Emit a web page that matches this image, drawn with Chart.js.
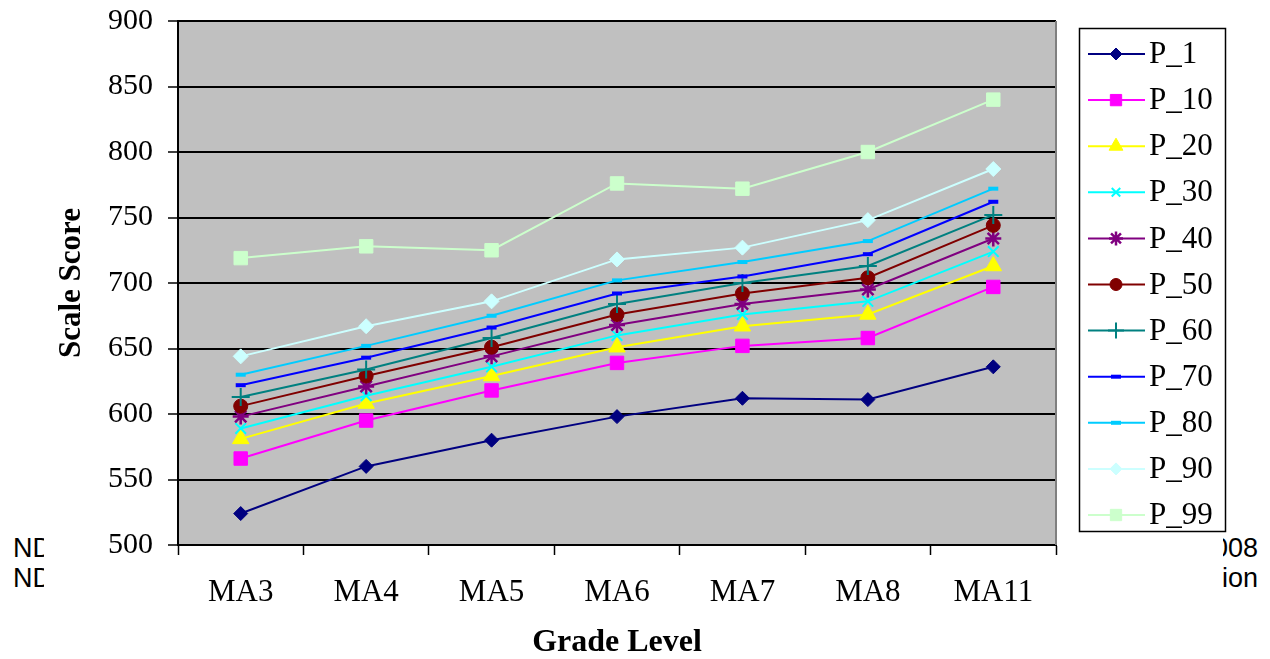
<!DOCTYPE html>
<html>
<head>
<meta charset="utf-8">
<script src="https://cdn.jsdelivr.net/npm/chart.js@4.4.1/dist/chart.umd.min.js"></script>
<style>
  html, body { margin: 0; padding: 0; background: #fff; }
  #wrap { position: relative; width: 1270px; height: 659px; overflow: hidden; }
  .side { position: absolute; font-family: "Liberation Sans", Arial, sans-serif; font-size: 27px; line-height: 30px; color: #000; white-space: nowrap; }
  #cover { position: absolute; left: 44px; top: 0; width: 1179px; height: 659px; background: #fff; }
  #c { position: absolute; left: 0; top: 0; }
</style>
</head>
<body>
<div id="wrap">
  <div class="side" style="left:13px; top:533px;">ND<br>ND</div>
  <div class="side" style="right:12px; top:533px; text-align:right;">2008<br>ation</div>
  <div id="cover"></div>
  <canvas id="c" width="1270" height="659"></canvas>
</div>
<script>
const categories = ['MA3', 'MA4', 'MA5', 'MA6', 'MA7', 'MA8', 'MA11'];
const seriesNames = ['P_1', 'P_10', 'P_20', 'P_30', 'P_40', 'P_50', 'P_60', 'P_70', 'P_80', 'P_90', 'P_99'];
const P_1  = [524, 560, 580, 598, 612, 611, 636];
const P_10 = [566, 595, 618, 639, 652, 658, 697];
const P_20 = [581, 608, 629, 651, 667, 676, 713];
const P_30 = [589, 614, 636, 660, 676, 686, 724];
const P_40 = [598, 621, 644, 668, 684, 695, 734];
const P_50 = [606, 629, 651, 676, 692, 704, 744];
const P_60 = [613, 634, 658, 684, 700, 713, 752];
const P_70 = [622, 643, 666, 692, 705, 722, 762];
const P_80 = [630, 652, 675, 702, 716, 732, 772];
const P_90 = [644, 667, 686, 718, 727, 748, 787];
const P_99 = [719, 728, 725, 776, 772, 800, 840];
const seriesValues = [P_1, P_10, P_20, P_30, P_40, P_50, P_60, P_70, P_80, P_90, P_99];
const yTicks = [500, 550, 600, 650, 700, 750, 800, 850, 900];

const colors = ['#000080', '#FF00FF', '#FFFF00', '#00FFFF', '#800080', '#800000', '#008080', '#0000FF', '#00CCFF', '#CCFFFF', '#CCFFCC'];
const markers = [
  {style: 'rectRot', r: 7, bw: 1, lr: 6},
  {style: 'rect', r: 9.5, bw: 1, lr: 8},
  {style: 'triangle', r: 9.5, bw: 1, lr: 8},
  {style: 'crossRot', r: 7.5, bw: 2, lr: 6},
  {style: 'star', r: 8, bw: 2.5, lr: 7},
  {style: 'circle', r: 7, bw: 1, lr: 6},
  {style: 'cross', r: 9, bw: 2, lr: 8},
  {style: 'line', r: 5, bw: 4, lr: 5},
  {style: 'line', r: 5, bw: 4, lr: 5},
  {style: 'rectRot', r: 7.5, bw: 1, lr: 6},
  {style: 'rect', r: 9.5, bw: 1, lr: 8}
];

const FONT = '"Liberation Serif", "Times New Roman", serif';
Chart.defaults.font.family = FONT;
Chart.defaults.color = '#000';

const datasets = seriesNames.map((name, i) => ({
  label: name,
  data: seriesValues[i],
  borderColor: colors[i],
  backgroundColor: colors[i],
  pointBackgroundColor: colors[i],
  pointBorderColor: colors[i],
  pointStyle: markers[i].style,
  pointRadius: markers[i].r,
  pointHoverRadius: markers[i].r,
  pointBorderWidth: markers[i].bw,
  legendRadius: markers[i].lr,
  borderWidth: 2,
  tension: 0,
  fill: false,
  order: 10 - i
}));

const plotBg = {
  id: 'plotBg',
  beforeDraw(chart) {
    const {ctx, chartArea: a} = chart;
    ctx.save();
    ctx.fillStyle = '#C0C0C0';
    ctx.fillRect(a.left, a.top, a.right - a.left, a.bottom - a.top);
    ctx.restore();
  },
  beforeDatasetsDraw(chart) {
    const {ctx, chartArea: a} = chart;
    ctx.save();
    ctx.strokeStyle = '#808080';
    ctx.lineWidth = 2;
    ctx.beginPath();
    ctx.moveTo(a.right, a.top);
    ctx.lineTo(a.right, a.bottom);
    ctx.stroke();
    ctx.restore();
  }
};

const customLegend = {
  id: 'customLegend',
  afterDraw(chart) {
    const ctx = chart.ctx;
    const bx = 1079, by = 28, bw = 147, bh = 504;
    ctx.save();
    ctx.fillStyle = '#fff';
    ctx.fillRect(bx, by, bw, bh);
    ctx.strokeStyle = '#000';
    ctx.lineWidth = 1.5;
    ctx.strokeRect(bx + 0.5, by + 0.5, bw - 1, bh - 1);
    chart.data.datasets.forEach((ds, i) => {
      const y = 54 + i * 46.1;
      ctx.strokeStyle = ds.borderColor;
      ctx.lineWidth = 2;
      ctx.beginPath();
      ctx.moveTo(1088, y);
      ctx.lineTo(1145, y);
      ctx.stroke();
      ctx.fillStyle = ds.pointBackgroundColor;
      ctx.strokeStyle = ds.pointBorderColor;
      ctx.lineWidth = ds.pointBorderWidth;
      Chart.helpers.drawPoint(ctx, {pointStyle: ds.pointStyle, radius: ds.legendRadius, borderWidth: ds.pointBorderWidth, rotation: 0}, 1116, y);
      ctx.fillStyle = '#000';
      ctx.font = '31px ' + FONT;
      ctx.textBaseline = 'middle';
      ctx.textAlign = 'left';
      ctx.fillText(ds.label, 1149, y + 1);
    });
    ctx.restore();
  }
};

new Chart(document.getElementById('c'), {
  type: 'line',
  data: { labels: categories, datasets: datasets },
  plugins: [plotBg, customLegend],
  options: {
    responsive: false,
    devicePixelRatio: 1,
    animation: false,
    events: [],
    layout: { padding: { left: 54, right: 214, top: 21, bottom: 0 } },
    plugins: { legend: { display: false }, tooltip: { enabled: false } },
    scales: {
      x: {
        type: 'category',
        offset: true,
        afterFit(scale) { scale.height = 114; scale.paddingLeft = 0; scale.paddingRight = 0; },
        grid: { display: true, drawOnChartArea: false, drawTicks: true, tickLength: 10, offset: true, color: '#000', tickColor: '#000', tickWidth: 1.5 },
        border: { display: true, color: '#000', width: 2 },
        ticks: { font: { size: 31 }, color: '#000', padding: 19, maxRotation: 0, autoSkip: false },
        title: { display: true, text: 'Grade Level', font: { size: 32, weight: 'bold', lineHeight: 1 }, color: '#000', padding: { top: 0, bottom: 0 } }
      },
      y: {
        min: 500,
        max: 900,
        afterFit(scale) { scale.width = 124; scale.paddingTop = 0; scale.paddingBottom = 0; },
        afterBuildTicks(scale) { scale.ticks = yTicks.map(v => ({ value: v })); },
        grid: { color: '#000', lineWidth: 2, tickLength: 10, tickColor: '#000', tickWidth: 1.5 },
        border: { display: true, color: '#000', width: 2 },
        ticks: { font: { size: 30 }, color: '#000', padding: 15 },
        title: { display: true, text: 'Scale Score', font: { size: 31, weight: 'bold', lineHeight: 1 }, color: '#000', padding: { top: 2, bottom: 0 } }
      }
    }
  }
});
</script>
</body>
</html>
